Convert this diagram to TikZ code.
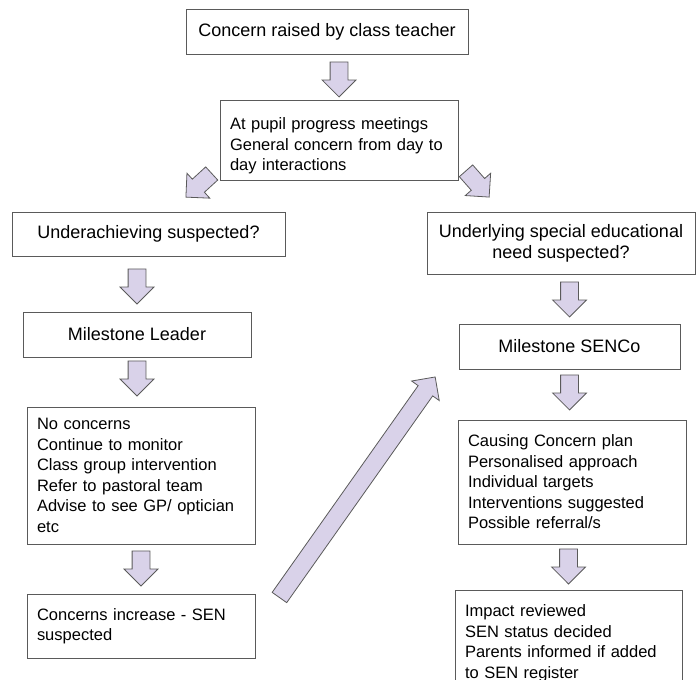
\documentclass[tikz,border=0pt]{standalone}
\usepackage{fontspec}
\setmainfont{Liberation Sans}
\usetikzlibrary{shapes.arrows,calc}
\definecolor{lavender}{HTML}{D9D2E9}
\definecolor{edgegray}{HTML}{5A5A5A}
% block arrow from a point towards its tip
\newcommand\flowarrow[3][]{\path (#2) -- (#3) node [blk, pos=1, anchor=tip, #1] {};}
\begin{document}
\begin{tikzpicture}[x=1pt, y=-1pt,
  box/.style={draw=edgegray, line width=1pt, fill=white, inner sep=0pt,
    font=\fontsize{18}{20.7}\selectfont},
  listbox/.style={box, align=left, inner xsep=10pt,
    font=\fontsize{16.5}{20.5}\selectfont},
  blk/.style={single arrow, draw=edgegray, line width=0.8pt, fill=lavender,
    inner xsep=0pt, inner ysep=8.5pt, single arrow head extend=8pt,
    minimum height=35pt, sloped, allow upside down}]
  \useasboundingbox (0,0) rectangle (697,680);
  \clip (0,0) rectangle (697,680);
  % start
  \node [box, minimum width=282, minimum height=45] (teach) at (327,31.5)
    {Concern raised by class teacher};
  \node [listbox, text width=218pt, minimum height=80] (meet) at (339,140)
    {\rule{0pt}{24pt}At pupil progress meetings\\General concern from day to\\day interactions};
  % underachieving branch
  \node [box, minimum width=273, minimum height=44] (under) at (148.5,234)
    {Underachieving suspected?};
  \node [box, minimum width=228, minimum height=45] (leader) at (137,334.5)
    {Milestone Leader};
  \node [listbox, text width=208pt, minimum height=137] (options) at (141,475.5)
    {No concerns\\Continue to monitor\\Class group intervention\\Refer to pastoral team\\Advise to see GP/ optician\\etc};
  \node [listbox, text width=208pt, minimum height=64] (incr) at (141,626)
    {Concerns increase - SEN\\suspected};
  % SEN branch
  \node [box, align=center, minimum width=268, minimum height=62] (sen) at (561,243)
    {Underlying special educational\\need suspected?};
  \node [box, minimum width=221, minimum height=45] (senco) at (569.5,346.5)
    {Milestone SENCo};
  \node [listbox, text width=208pt, minimum height=124] (plan) at (572,482)
    {Causing Concern plan\\Personalised approach\\Individual targets\\Interventions suggested\\Possible referral/s};
  \node [listbox, text width=207pt, minimum height=106] (impact) at (568.5,643)
    {Impact reviewed\\SEN status decided\\Parents informed if added\\to SEN register};
  % arrows
  \flowarrow{teach.south -| meet.north}{$(meet.north)+(0,-2)$}
  \flowarrow{$(meet.south west)+(-10,-5)$}{$(under.north)+(37,-14)$}
  \flowarrow{$(meet.south east)+(9,-8)$}{$(sen.north west)+(63,-14)$}
  \flowarrow{under.south -| leader.north}{$(leader.north)+(0,-7)$}
  \flowarrow{leader.south}{$(options.north -| leader.south)+(0,-10)$}
  \flowarrow{options.south}{$(incr.north)+(0,-7)$}
  \flowarrow{sen.south -| senco.north}{$(senco.north)+(0,-6)$}
  \flowarrow{senco.south}{$(plan.north -| senco.south)+(0,-9)$}
  \flowarrow{plan.south -| impact.north}{$(impact.north)+(0,-5)$}
  \flowarrow[minimum height=270pt]{$(incr.east)+(25,-30)$}{$(senco.west)+(-23,30)$}
\end{tikzpicture}
\end{document}
